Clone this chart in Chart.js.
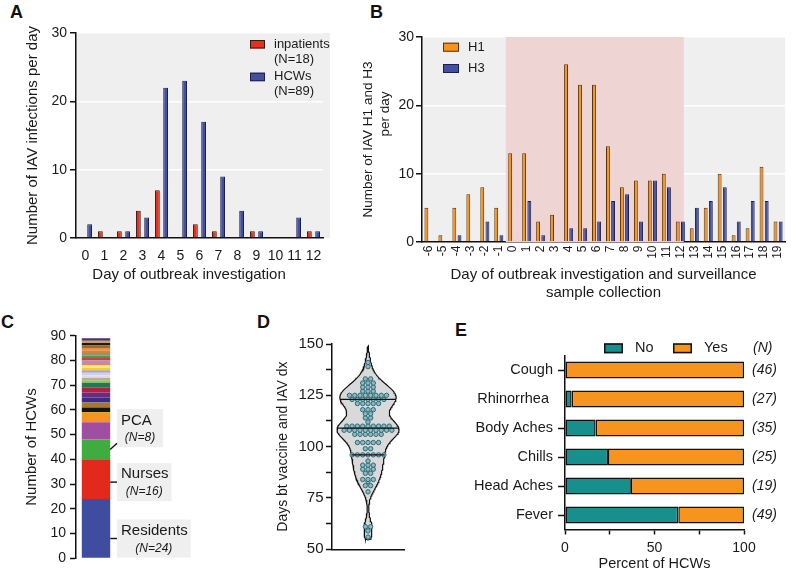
<!DOCTYPE html>
<html>
<head>
<meta charset="utf-8">
<title>IAV outbreak figure</title>
<script src="https://cdn.jsdelivr.net/npm/chart.js@4.4.1/dist/chart.umd.min.js"></script>
<style>
  html, body { margin: 0; padding: 0; background: #fff; overflow: hidden; }
  #figure { position: relative; width: 796px; height: 571px; }
  #figure canvas { position: absolute; }
  .panel-tag { position: absolute; font: bold 18px/18px "Liberation Sans", Arial, sans-serif; color: #111; }
</style>
</head>
<body>
<div id="figure">
  <div class="panel-tag" style="left:10px;top:3px">A</div>
  <div class="panel-tag" style="left:370px;top:3px">B</div>
  <div class="panel-tag" style="left:1px;top:313px">C</div>
  <div class="panel-tag" style="left:257px;top:313px">D</div>
  <div class="panel-tag" style="left:455px;top:321px">E</div>
  <canvas id="chart-a" width="345" height="290" style="left:0;top:0"></canvas>
  <canvas id="chart-b" width="451" height="305" style="left:345px;top:0"></canvas>
  <canvas id="chart-c" width="200" height="271" style="left:0;top:300px"></canvas>
  <canvas id="chart-d" width="160" height="271" style="left:260px;top:300px"></canvas>
  <canvas id="chart-e" width="376" height="254" style="left:420px;top:320px"></canvas>
</div>
<script>
// ---- data ----
const daysA = ["0", "1", "2", "3", "4", "5", "6", "7", "8", "9", "10", "11", "12"];
const inpatientCases = [0, 1, 1, 4, 7, 0, 2, 1, 0, 1, 0, 0, 1];
const hcwCases = [2, 0, 1, 3, 22, 23, 17, 9, 4, 1, 0, 3, 1];
const groupTotals = [18, 89];

const daysB = ["-6", "-5", "-4", "-3", "-2", "-1", "0", "1", "2", "3", "4", "5", "6",
  "7", "8", "9", "10", "11", "12", "13", "14", "15", "16", "17", "18", "19"];
const h1Cases = [5, 1, 5, 7, 8, 5, 13, 13, 3, 4, 26, 23, 23, 14, 8, 9, 9, 10, 3, 2, 5, 10, 1, 2, 11, 3];
const h3Cases = [0, 0, 1, 0, 3, 1, 0, 6, 1, 0, 2, 2, 3, 6, 7, 3, 9, 8, 3, 5, 6, 8, 3, 6, 6, 3];
const outbreakDays = ["0", "12"]; // first and last day of the investigation window

const roleNames = ["Residents", "Nurses", "PCA"];
const roleCounts = [24, 16, 8, 7, 4, 2, 2, 2, 2, 2, 2,
  1, 1, 1, 1, 1, 1, 1, 1, 1, 1, 1, 1, 1, 1, 1, 1, 1, 1];

const daysSinceVaccine = [
  141, 139, 133, 133, 131, 131, 131, 129, 129, 129, 127, 127, 127,
  125, 125, 125, 125, 125, 125, 125, 125, 123, 123, 123, 123, 123, 123, 123,
  121, 121, 121, 121, 121, 118, 118, 118, 116, 116, 114, 114, 112,
  110, 110, 110, 110, 110, 110, 110, 110, 110,
  108, 108, 108, 108, 108, 108, 108, 108, 108, 108,
  106, 106, 106, 106, 106, 106, 102, 102, 102, 102, 102, 99, 99,
  96, 96, 96, 96, 96, 96, 96, 93, 91, 91, 91, 89, 89, 89, 87, 87,
  84, 84, 84, 83, 81, 81, 78, 61, 61, 59, 56,
];
const violinRange = [54.5, 149];

const symptoms = ["Cough", "Rhinorrhea ", "Body Aches", "Chills", "Head Aches", "Fever"];
const symptomNo = [0, 3.7, 17.1, 24, 36.8, 63.3];
const symptomYes = [100, 96.3, 82.9, 76, 63.2, 36.7];
const symptomN = [46, 27, 35, 25, 19, 49];

// ---- styles ----
const TEXT = "#1a1a1a";
const FONT = '"Liberation Sans", Arial, sans-serif';
const RED = "#e2311f";
const NAVY = "#454fa0";
const ORANGE = "#f7941d";
const TEAL = "#168f8d";
const GREY = "#efefef";
const PINK = "#efd4d4";
const ROLE_COLORS = ["#3e4d9f", "#e3281c", "#3fac3f", "#a24ea0", "#f7941d", "#141414", "#a9772e",
  "#372e88", "#6c2a7c", "#b5203c", "#1e7a52",
  "#8cc46a", "#c0b080", "#d8e0f0", "#c6d4ee", "#b0a0b8", "#f8d020", "#f4e6a4", "#e8902c",
  "#b58cc8", "#d23c3c", "#4e9a48", "#8a9a6a", "#d8803c", "#f0902a", "#9a6a34", "#1a1a1a",
  "#c8a060", "#4b2f70"];
const AXIS = { color: "#111", width: 1.5 };
const KDE_BW = 4.5;
const VIOLIN_HALF_PX = 31;
const DOT_SPACING = 5.3;

Chart.defaults.font.family = FONT;
Chart.defaults.font.size = 14;
Chart.defaults.color = TEXT;
Chart.defaults.animation = false;
Chart.defaults.responsive = false;
Chart.defaults.plugins.legend.display = false;
Chart.defaults.plugins.tooltip.enabled = false;

// ---- plugins ----
const plotBackground = {
  id: "plotBackground",
  beforeDraw(chart, _args, opts) {
    if (!opts.color) return;
    const { ctx, chartArea: a } = chart;
    ctx.save();
    ctx.fillStyle = opts.color;
    ctx.fillRect(a.left, a.top, a.width + (opts.extendRight || 0), a.height);
    ctx.restore();
  },
};

const outbreakBand = {
  id: "outbreakBand",
  beforeDatasetsDraw(chart, _args, opts) {
    const { ctx, chartArea: a, scales: { x } } = chart;
    const labels = chart.data.labels;
    const step = x.getPixelForValue(1) - x.getPixelForValue(0);
    const left = x.getPixelForValue(labels.indexOf(opts.from)) - step / 2;
    const right = x.getPixelForValue(labels.indexOf(opts.to)) + step * 0.25;
    ctx.save();
    ctx.fillStyle = opts.color;
    ctx.fillRect(left, a.top, right - left, a.height);
    ctx.restore();
  },
};

function drawKey(ctx, x, y, w, h, fill, stroke, lw) {
  ctx.fillStyle = fill;
  ctx.fillRect(x, y, w, h);
  ctx.strokeStyle = stroke;
  ctx.lineWidth = lw;
  ctx.strokeRect(x + lw / 2, y + lw / 2, w - lw, h - lw);
}

const keyA = {
  id: "keyA",
  afterDraw(chart) {
    const { ctx, chartArea: a } = chart;
    ctx.save();
    ctx.font = `13px ${FONT}`;
    ctx.textBaseline = "middle";
    chart.data.datasets.forEach((ds, i) => {
      const top = a.top + 7 + i * 32.7;
      drawKey(ctx, a.right - 73, top, 15, 8.5, ds.backgroundColor, ds.borderColor, 1);
      ctx.fillStyle = TEXT;
      ctx.fillText(ds.label, a.right - 49, top + 4);
      ctx.fillText(`(N=${groupTotals[i]})`, a.right - 49, top + 19);
    });
    ctx.restore();
  },
};

const keyB = {
  id: "keyB",
  afterDraw(chart) {
    const { ctx, chartArea: a } = chart;
    ctx.save();
    ctx.font = `13px ${FONT}`;
    ctx.textBaseline = "middle";
    chart.data.datasets.forEach((ds, i) => {
      const top = a.top + 5.7 + i * 21.3;
      drawKey(ctx, a.left + 21, top, 16, 9, ds.backgroundColor, ds.borderColor, 1);
      ctx.fillStyle = TEXT;
      ctx.fillText(ds.label, a.left + 46, top + 4.5);
    });
    // second line of the y-axis title sits toward the top of the axis
    ctx.font = `13.5px ${FONT}`;
    ctx.textAlign = "center";
    ctx.translate(40.5, a.top + 77);
    ctx.rotate(-Math.PI / 2);
    ctx.fillText("per day", 0, 0);
    ctx.restore();
  },
};

const calloutCentres = [8, 30.8, 52.6]; // y value where each role's label box is centred
const roleCallouts = {
  id: "roleCallouts",
  afterDraw(chart) {
    const { ctx, chartArea: a, scales: { y } } = chart;
    ctx.save();
    let base = 0;
    roleNames.forEach((name, i) => {
      const n = roleCounts[i];
      const bar = chart.getDatasetMeta(i).data[0];
      const barRight = bar.x + bar.width / 2;
      const mid = y.getPixelForValue(base + n / 2);
      base += n;
      const cy = y.getPixelForValue(calloutCentres[i]);
      const nText = `(N=${n})`;
      ctx.font = `15px ${FONT}`;
      const w1 = ctx.measureText(name).width;
      ctx.font = `italic 12px ${FONT}`;
      const w2 = ctx.measureText(nText).width;
      const boxW = Math.max(w1 + 7, w2 + 10, 46);
      const boxL = a.right + 1;
      const boxT = cy - 19;
      ctx.fillStyle = GREY;
      ctx.fillRect(boxL, boxT, boxW, 38);

      ctx.strokeStyle = "#111";
      ctx.lineWidth = 1.4;
      ctx.beginPath();
      if (mid > boxT && mid < boxT + 38) {
        ctx.moveTo(barRight, cy);
        ctx.lineTo(boxL, cy);
      } else {
        ctx.moveTo(barRight, mid);
        ctx.lineTo(boxL, mid > cy ? boxT + 34 : boxT + 4);
      }
      ctx.stroke();

      ctx.fillStyle = TEXT;
      ctx.textBaseline = "middle";
      ctx.textAlign = "left";
      ctx.font = `15px ${FONT}`;
      ctx.fillText(name, boxL + 4, boxT + 11.2);
      ctx.textAlign = "center";
      ctx.font = `italic 12px ${FONT}`;
      ctx.fillText(nText, boxL + boxW / 2, boxT + 28.8);
    });
    ctx.restore();
  },
};

const symptomKey = {
  id: "symptomKey",
  afterDraw(chart) {
    const { ctx, chartArea: a, scales: { y } } = chart;
    ctx.save();
    ctx.textBaseline = "middle";
    ctx.font = `14.5px ${FONT}`;
    const keyY = a.top - 12.2;
    let x = a.left + 39;
    chart.data.datasets.forEach((ds) => {
      drawKey(ctx, x, keyY, 19, 10, ds.backgroundColor, "#111", 1.5);
      ctx.fillStyle = TEXT;
      ctx.fillText(ds.label, x + 31, keyY + 5);
      x += 69;
    });
    ctx.font = `italic 14px ${FONT}`;
    ctx.fillText("(N)", a.right + 9, keyY + 5);
    symptomN.forEach((n, i) => ctx.fillText(`(${n})`, a.right + 8, y.getPixelForValue(i)));
    ctx.restore();
  },
};

const yTicks = (extra) => ({
  grid: { drawOnChartArea: false, tickLength: 6, tickWidth: 1.5, tickColor: "#111", ...extra },
  border: AXIS,
});

// ---- A: daily infections ----
new Chart(document.getElementById("chart-a"), {
  type: "bar",
  data: {
    labels: daysA,
    datasets: [
      { label: "inpatients", data: inpatientCases, backgroundColor: RED, borderColor: "#3a1812",
        borderWidth: 1, categoryPercentage: 0.87, barPercentage: 0.58 },
      { label: "HCWs", data: hcwCases, backgroundColor: NAVY, borderColor: "#1c1f4d",
        borderWidth: 1, categoryPercentage: 0.87, barPercentage: 0.58 },
    ],
  },
  options: {
    layout: { padding: { top: 33, right: 22, left: 0, bottom: 0 } },
    plugins: { plotBackground: { color: GREY, extendRight: 7 } },
    scales: {
      x: {
        grid: { display: false, drawTicks: false },
        border: AXIS,
        ticks: { padding: 9.6, maxRotation: 0, autoSkip: false },
        title: { display: true, text: "Day of outbreak investigation\u00a0\u00a0\u00a0\u00a0\u00a0",
          font: { size: 15 }, padding: { top: 0, bottom: 6 } },
        afterFit: (s) => { s.height = 52; },
      },
      y: {
        min: 0, max: 30,
        ticks: { stepSize: 10, padding: 3 },
        grid: { color: "#fff", lineWidth: 1.5, tickColor: "#111", tickLength: 6, tickWidth: 1.5 },
        border: AXIS,
        title: { display: true, text: "Number of IAV infections per day", font: { size: 15 }, padding: { top: 23.5 } },
        afterFit: (s) => { s.width = 76; },
      },
    },
  },
  plugins: [plotBackground, keyA],
});

// ---- B: H1 / H3 subtypes ----
new Chart(document.getElementById("chart-b"), {
  type: "bar",
  data: {
    labels: daysB,
    datasets: [
      { label: "H1", data: h1Cases, backgroundColor: ORANGE, borderColor: "#5a3208",
        borderWidth: 1, categoryPercentage: 0.74, barPercentage: 0.75 },
      { label: "H3", data: h3Cases, backgroundColor: NAVY, borderColor: "#1c1f4d",
        borderWidth: 1, categoryPercentage: 0.74, barPercentage: 0.75 },
    ],
  },
  options: {
    layout: { padding: { top: 37, right: 1, left: 0, bottom: 0 } },
    plugins: {
      plotBackground: { color: GREY },
      outbreakBand: { color: PINK, from: outbreakDays[0], to: outbreakDays[1] },
    },
    scales: {
      x: {
        grid: { display: false, drawTicks: false },
        border: AXIS,
        ticks: { font: { size: 12 }, minRotation: 90, maxRotation: 90, padding: 3.5, autoSkip: false },
        title: { display: true, text: ["Day of outbreak investigation and surveillance", "sample collection"],
          font: { size: 15 }, padding: { top: 0, bottom: 2.7 } },
        afterFit: (s) => { s.height = 63; },
      },
      y: {
        min: 0, max: 30,
        ticks: { stepSize: 10, padding: 2 },
        grid: { color: "#fff", lineWidth: 1.5, tickColor: "#111", tickLength: 6, tickWidth: 1.5 },
        border: AXIS,
        title: { display: true, text: "Number of IAV H1 and H3", font: { size: 13.5 }, padding: { top: 14.7 } },
        afterFit: (s) => { s.width = 77; },
      },
    },
  },
  plugins: [plotBackground, outbreakBand, keyB],
});

// ---- C: HCW roles ----
new Chart(document.getElementById("chart-c"), {
  type: "bar",
  data: {
    labels: ["HCWs"],
    datasets: roleCounts.map((n, i) => ({
      label: roleNames[i] || `Other role ${i - 2}`,
      data: [n],
      backgroundColor: ROLE_COLORS[i],
      borderWidth: 0,
      categoryPercentage: 1,
      barPercentage: 0.71,
    })),
  },
  options: {
    layout: { padding: { top: 35.7, right: 84, left: 0, bottom: 12.7 } },
    scales: {
      x: { stacked: true, display: false },
      y: {
        stacked: true, min: 0, max: 90,
        ticks: { stepSize: 10, padding: 4 },
        ...yTicks(),
        title: { display: true, text: "Number of HCWs", font: { size: 15 }, padding: { top: 22.7 } },
        afterFit: (s) => { s.width = 76; },
      },
    },
  },
  plugins: [roleCallouts],
});

// ---- D: days between vaccine and diagnosis ----
const lineStyle = { showLine: true, borderColor: "#111", borderWidth: 1.3, pointRadius: 0, order: 0 };
const violinChart = new Chart(document.getElementById("chart-d"), {
  type: "scatter",
  data: {
    datasets: [
      { label: "lower quartile", data: [], ...lineStyle },
      { label: "median", data: [], ...lineStyle },
      { label: "upper quartile", data: [], ...lineStyle },
      { label: "HCWs", data: [], pointRadius: 2.2, pointBackgroundColor: "#8dbac2",
        pointBorderColor: "#2e6a76", pointBorderWidth: 1, order: 1 },
      { label: "density", data: [], showLine: true, fill: "shape", backgroundColor: "#d9d9d9",
        borderColor: "#111", borderWidth: 1.2, pointRadius: 0, order: 2 },
    ],
  },
  options: {
    layout: { padding: { top: 44, right: 16, left: 0, bottom: 21.7 } },
    scales: {
      x: {
        type: "linear", min: -1, max: 1,
        ticks: { display: false },
        grid: { display: false, drawTicks: false },
        border: AXIS,
        afterFit: (s) => { s.height = 0; },
      },
      y: {
        min: 50, max: 150,
        ticks: { stepSize: 12.5, font: { size: 15 }, padding: 2.5, callback: (v) => (v % 25 === 0 ? v : "") },
        ...yTicks(),
        title: { display: true, text: "Days bt vaccine and IAV dx", font: { size: 14 }, padding: { top: 14.9 } },
        afterFit: (s) => { s.width = 72; },
      },
    },
  },
});

function quantile(sorted, p) {
  const pos = (sorted.length - 1) * p;
  const lo = Math.floor(pos);
  const hi = Math.ceil(pos);
  return sorted[lo] + (sorted[hi] - sorted[lo]) * (pos - lo);
}

function placeVaccineDots(chart) {
  const { x } = chart.scales;
  const pxX = x.getPixelForValue(1) - x.getPixelForValue(0);
  const sorted = [...daysSinceVaccine].sort((a, b) => a - b);

  // tied values sit side by side in a row centred on the violin axis
  const rows = new Map();
  sorted.forEach((v) => rows.set(v, (rows.get(v) || 0) + 1));
  const dots = [];
  rows.forEach((n, v) => {
    for (let k = 0; k < n; k++) dots.push({ x: ((k - (n - 1) / 2) * DOT_SPACING) / pxX, y: v });
  });

  // gaussian kernel density for the violin outline
  const density = (t) => sorted.reduce((s, v) => s + Math.exp(-0.5 * ((t - v) / KDE_BW) ** 2), 0);
  const steps = [];
  for (let t = violinRange[0]; t <= violinRange[1]; t += 0.5) steps.push(t);
  const peak = Math.max(...steps.map(density));
  const half = (t) => (density(t) / peak) * VIOLIN_HALF_PX / pxX;
  const right = steps.map((t) => ({ x: half(t), y: t }));
  right[0].x = 0;
  right[right.length - 1].x = 0;
  const left = right.map((p) => ({ x: -p.x, y: p.y })).reverse();

  const ds = chart.data.datasets;
  [0.25, 0.5, 0.75].forEach((p, i) => {
    const q = quantile(sorted, p);
    ds[i].data = [{ x: -half(q), y: q }, { x: half(q), y: q }];
  });
  ds[3].data = dots;
  ds[4].data = right.concat(left);
  chart.update();
}
placeVaccineDots(violinChart);

// ---- E: symptoms ----
const symptomBar = { borderColor: "#111", borderWidth: 1.5, borderSkipped: false,
  categoryPercentage: 1, barPercentage: 0.58 };
new Chart(document.getElementById("chart-e"), {
  type: "bar",
  data: {
    labels: symptoms,
    datasets: [
      { label: "No", data: symptomNo, backgroundColor: TEAL, ...symptomBar },
      { label: "Yes", data: symptomYes, backgroundColor: ORANGE, ...symptomBar },
    ],
  },
  options: {
    indexAxis: "y",
    layout: { padding: { top: 35.5, right: 52, left: 0, bottom: 0 } },
    scales: {
      x: {
        stacked: true, min: 0, max: 100,
        ticks: { stepSize: 25, padding: 5, callback: (v) => (v % 50 === 0 ? v : "") },
        grid: { drawOnChartArea: false, tickLength: 5, tickWidth: 1.5, tickColor: "#111" },
        border: AXIS,
        title: { display: true, text: "Percent of HCWs", font: { size: 14.5 }, padding: { top: 0, bottom: 1.3 } },
        afterFit: (s) => { s.height = 44.5; },
      },
      y: {
        stacked: true,
        ticks: { font: { size: 14.5 }, padding: 5, autoSkip: false },
        grid: { offset: false, drawOnChartArea: false, tickLength: 7, tickWidth: 1.5,
          tickColor: (ctx) => (ctx.index === 1 ? "rgba(0,0,0,0)" : "#111") },
        border: AXIS,
        afterFit: (s) => { s.width = 145; },
      },
    },
  },
  plugins: [symptomKey],
});
</script>
</body>
</html>
